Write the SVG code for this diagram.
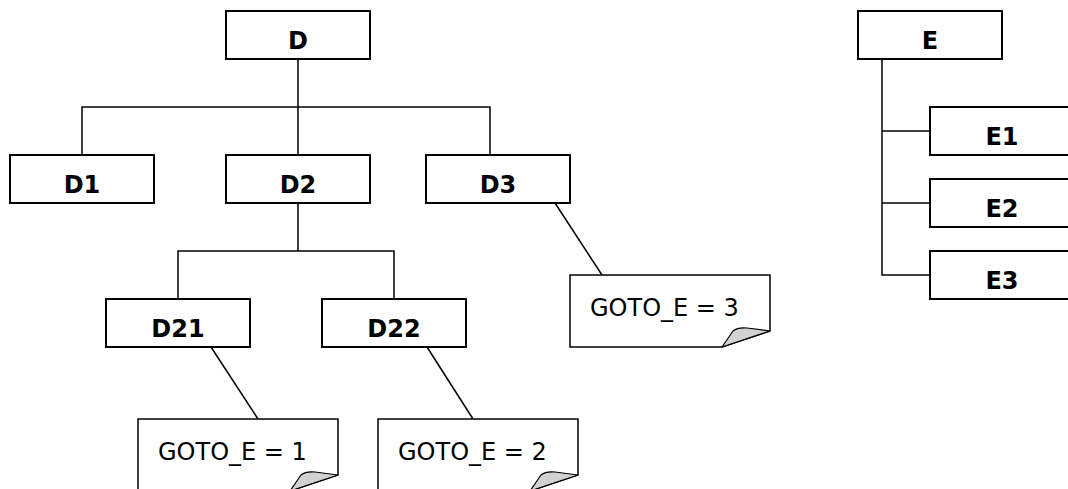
<svg xmlns="http://www.w3.org/2000/svg" xmlns:xlink="http://www.w3.org/1999/xlink" width="1068" height="489" viewBox="0 0 1068 489">
  <style>
    .box { fill: #ffffff; stroke: #000000; stroke-width: 2; }
    .lbl { font-family: "DejaVu Sans", Verdana, sans-serif; font-weight: bold; font-size: 24px; text-anchor: middle; fill: #000000; }
    .note { fill: #ffffff; stroke: #000000; stroke-width: 1.5; stroke-linejoin: miter; }
    .flap { fill: #d2d2d2; stroke: #000000; stroke-width: 1.2; stroke-linejoin: round; }
    .ntxt { font-family: "DejaVu Sans", Verdana, sans-serif; font-size: 24px; fill: #000000; }
    .wire { fill: none; stroke: #000000; stroke-width: 1.5; }
  </style>
  <defs>
    <!-- sticky note, 200 x 72, with a curled lower-right corner -->
    <g id="notepaper">
      <path class="note" d="M0,0 H200 V56 L152,72 H0 Z"/>
      <path class="flap" d="M152,72 L163,56 Q168,52 177,53 L200,56 Z"/>
    </g>
  </defs>
  <rect width="1068" height="489" fill="#ffffff"/>

  <!-- tree wiring -->
  <g id="connectors" class="wire">
    <path d="M298,59 V107 M82,155 V107 H490 V155 M298,107 V155"/>
    <path d="M298,203 V251 M178,299 V251 H394 V299"/>
    <path d="M882,59 V275 H930 M882,131 H930 M882,203 H930"/>
    <path d="M211,347 L258,419"/>
    <path d="M427,347 L473,419"/>
    <path d="M555,203 L602,275"/>
  </g>

  <g id="node-D"><rect class="box" x="226" y="11" width="144" height="48"/><text class="lbl" x="298" y="49">D</text></g>
  <g id="node-D1"><rect class="box" x="10" y="155" width="144" height="48"/><text class="lbl" x="82" y="193">D1</text></g>
  <g id="node-D2"><rect class="box" x="226" y="155" width="144" height="48"/><text class="lbl" x="298" y="193">D2</text></g>
  <g id="node-D3"><rect class="box" x="426" y="155" width="144" height="48"/><text class="lbl" x="498" y="193">D3</text></g>
  <g id="node-D21"><rect class="box" x="106" y="299" width="144" height="48"/><text class="lbl" x="178" y="337">D21</text></g>
  <g id="node-D22"><rect class="box" x="322" y="299" width="144" height="48"/><text class="lbl" x="394" y="337">D22</text></g>

  <g id="node-E"><rect class="box" x="858" y="11" width="144" height="48"/><text class="lbl" x="930" y="49">E</text></g>
  <g id="node-E1"><rect class="box" x="930" y="107" width="144" height="48"/><text class="lbl" x="1002" y="145">E1</text></g>
  <g id="node-E2"><rect class="box" x="930" y="179" width="144" height="48"/><text class="lbl" x="1002" y="217">E2</text></g>
  <g id="node-E3"><rect class="box" x="930" y="251" width="144" height="48"/><text class="lbl" x="1002" y="289">E3</text></g>

  <g id="note-1"><use xlink:href="#notepaper" transform="translate(138,419)"/><text class="ntxt" x="158" y="460">GOTO_E = 1</text></g>
  <g id="note-2"><use xlink:href="#notepaper" transform="translate(378,419)"/><text class="ntxt" x="398" y="460">GOTO_E = 2</text></g>
  <g id="note-3"><use xlink:href="#notepaper" transform="translate(570,275)"/><text class="ntxt" x="590" y="316">GOTO_E = 3</text></g>
</svg>
